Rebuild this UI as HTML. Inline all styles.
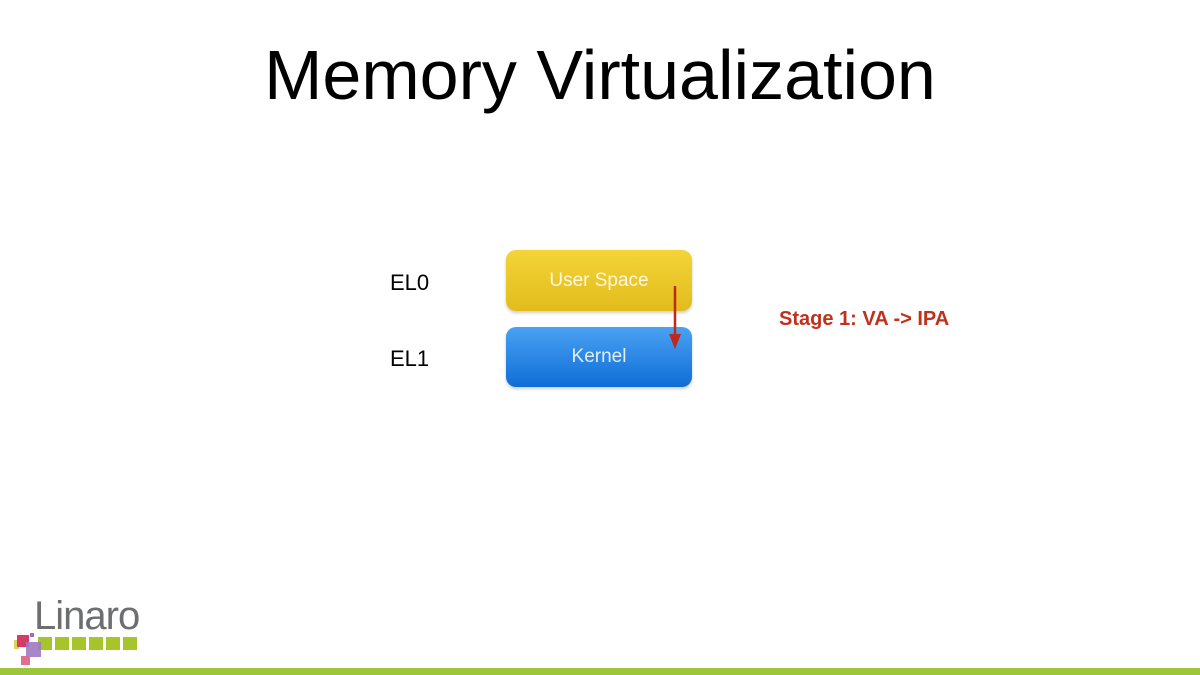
<!DOCTYPE html>
<html><head><meta charset="utf-8"><style>
body{margin:0;width:1200px;height:675px;background:#fff;position:relative;overflow:hidden;font-family:"Liberation Sans",sans-serif}
.a{position:absolute}
.box{position:absolute;left:506px;width:186px;border-radius:10px;color:rgba(255,255,255,.85);font-size:19px;text-align:center;box-shadow:0 2px 3px rgba(0,0,0,.2)}
.sq{position:absolute;top:637px;width:14px;height:13px;background:#a6c52a}
</style></head><body>
<div class="a" style="left:0;width:1200px;top:35px;text-align:center;font-size:70px;color:#000">Memory Virtualization</div>
<div class="a" style="left:390px;top:270px;font-size:22px">EL0</div>
<div class="a" style="left:390px;top:346px;font-size:22px">EL1</div>
<div class="box" style="top:250px;height:61px;line-height:61px;background:linear-gradient(#f4d438,#e2bc1c)">User Space</div>
<div class="box" style="top:327px;height:60px;line-height:60px;background:linear-gradient(#4ba2f3,#0f6dd6)">Kernel</div>
<svg class="a" style="left:665px;top:286px" width="20" height="66"><line x1="10" y1="0" x2="10" y2="50" stroke="#c0281c" stroke-width="2.5"/><polygon points="4,48 16,48 10,63" fill="#c0281c"/></svg>
<div class="a" style="left:779px;top:308px;font-size:20px;font-weight:bold;color:#c0311c">Stage 1: VA -&gt; IPA</div>
<div class="a" style="left:34px;top:594px;font-size:40px;color:#6d6e70;letter-spacing:-1px">Linaro</div>
<div class="sq" style="left:38px"></div><div class="sq" style="left:55px"></div><div class="sq" style="left:72px"></div><div class="sq" style="left:89px"></div><div class="sq" style="left:106px"></div><div class="sq" style="left:123px"></div>
<div class="a" style="left:14px;top:640px;width:5px;height:9px;background:#e0d060"></div>
<div class="a" style="left:17px;top:635px;width:12px;height:12px;background:#d43c66"></div>
<div class="a" style="left:30px;top:633px;width:4px;height:4px;background:#9a6cc4"></div>
<div class="a" style="left:26px;top:642px;width:15px;height:15px;background:#a07ac0;opacity:.9"></div>
<div class="a" style="left:21px;top:656px;width:9px;height:9px;background:#e07090"></div>
<div class="a" style="left:0;top:668px;width:1200px;height:7px;background:#9ec63a"></div>
</body></html>
